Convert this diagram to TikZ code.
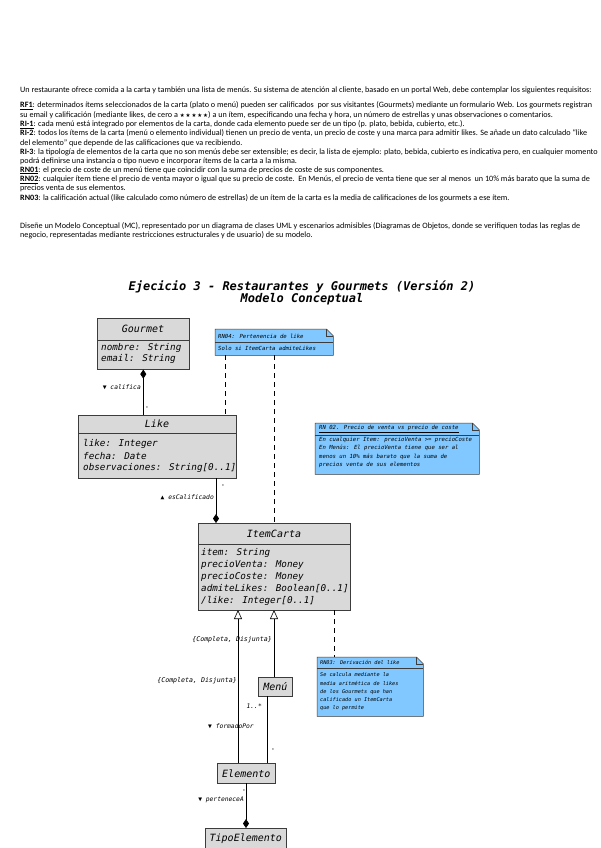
\documentclass[tikz,border=0pt]{standalone}
\usepackage{fontspec}
\setmainfont{Carlito}
\newfontfamily\hand{DejaVu Sans Mono}
\newfontfamily\sym{DejaVu Sans}
\usetikzlibrary{arrows.meta,calc}
\definecolor{classgray}{RGB}{217,217,217}
\definecolor{noteblue}{RGB}{128,200,255}
\definecolor{lineclr}{RGB}{60,60,60}
\tikzset{
  txtline/.style={anchor=west, inner sep=0pt, font=\fontsize{8.15}{8.7}\selectfont},
  clsbox/.style={draw=lineclr, fill=classgray, line width=0.6pt, inner sep=0pt},
  clshead/.style={inner sep=0pt, font=\hand\itshape\fontsize{10}{11}\selectfont},
  clsattr/.style={inner sep=0pt, anchor=west, font=\hand\itshape\fontsize{9.3}{10}\selectfont},
  notebox/.style={draw=lineclr, fill=noteblue, line width=0.5pt},
  notetxt/.style={inner sep=0pt, anchor=west, font=\hand\itshape\fontsize{5.6}{6}\selectfont},
  lbl/.style={inner sep=0pt, font=\hand\itshape\fontsize{6.3}{7}\selectfont},
  conn/.style={draw=black, line width=0.6pt},
  dashconn/.style={draw=black, line width=0.6pt, dashed, dash pattern=on 5pt off 4pt},
  compos/.style={conn, -{Diamond[length=9pt,width=6pt]}},
  gener/.style={conn, -{Triangle[open,length=9pt,width=8pt,fill=white]}},
}
\begin{document}
\begin{tikzpicture}[x=1pt,y=-1pt]
\useasboundingbox (0,0) rectangle (600,848);
\fill[white] (0,0) rectangle (600,848);

% ---------- statement text ----------
\node[txtline] (t0) at (20,90) {Un restaurante ofrece comida a la carta y también una lista de menús. Su sistema de atención al cliente, basado en un portal Web, debe contemplar los siguientes requisitos:};
\node[txtline] (t1) at (20,106) {\textbf{\underline{RF1}}: determinados ítems seleccionados de la carta (plato o menú) pueden ser calificados\ \ por sus visitantes (Gourmets) mediante un formulario Web. Los gourmets registran};
\node[txtline] (t2) at (20,115.2) {su email y calificación (mediante likes, de cero a {\sym\fontsize{5.5}{6}\selectfont ★\,★\,★\,★\,★}) a un ítem, especificando una fecha y hora, un número de estrellas y unas observaciones o comentarios.};
\node[txtline] (t3) at (20,124.4) {\textbf{\underline{RI-1}}: cada menú está integrado por elementos de la carta, donde cada elemento puede ser de un tipo (p. plato, bebida, cubierto, etc.).};
\node[txtline] (t4) at (20,133.6) {\textbf{RI-2}: todos los ítems de la carta (menú o elemento individual) tienen un precio de venta, un precio de coste y una marca para admitir likes. Se añade un dato calculado “like};
\node[txtline] (t5) at (20,142.8) {del elemento” que depende de las calificaciones que va recibiendo.};
\node[txtline] (t6) at (20,152) {\textbf{RI-3}: la tipología de elementos de la carta que no son menús debe ser extensible; es decir, la lista de ejemplo: plato, bebida, cubierto es indicativa pero, en cualquier momento};
\node[txtline] (t7) at (20,161.2) {podrá definirse una instancia o tipo nuevo e incorporar ítems de la carta a la misma.};
\node[txtline] (t8) at (20,170.4) {\textbf{\underline{RN01}}: el precio de coste de un menú tiene que coincidir con la suma de precios de coste de sus componentes.};
\node[txtline] (t9) at (20,179.6) {\textbf{\underline{RN02}}: cualquier ítem tiene el precio de venta mayor o igual que su precio de coste.\ \ En Menús, el precio de venta tiene que ser al menos\ \ un 10\% más barato que la suma de};
\node[txtline] (t10) at (20,188.8) {precios venta de sus elementos.};
\node[txtline] (t11) at (20,198) {\textbf{RN03}: la calificación actual (like calculado como número de estrellas) de un ítem de la carta es la media de calificaciones de los gourmets a ese ítem.};
\node[txtline] (t12) at (20,226) {Diseñe un Modelo Conceptual (MC), representado por un diagrama de clases UML y escenarios admisibles (Diagramas de Objetos, donde se verifiquen todas las reglas de};
\node[txtline] (t13) at (20,235.2) {negocio, representadas mediante restricciones estructurales y de usuario) de su modelo.};

% ---------- title ----------
\node[inner sep=0pt, align=center, font=\hand\bfseries\itshape\fontsize{12}{12.5}\selectfont] (title) at (302,293) {Ejecicio 3 - Restaurantes y Gourmets (Versión 2)\\Modelo Conceptual};

% ---------- classes ----------
% Gourmet
\node[clsbox, minimum width=92, minimum height=51, anchor=north west] (gourmet) at (97,318) {};
\draw[lineclr, line width=0.6pt] ($(gourmet.north west)+(0,22)$) -- ($(gourmet.north east)+(0,22)$);
\node[clshead] (gourmetT) at (143,329) {Gourmet};
\node[clsattr] (gourmetA1) at (101,348) {nombre: String};
\node[clsattr] (gourmetA2) at (101,359) {email: String};

% Like
\node[clsbox, minimum width=158, minimum height=63, anchor=north west] (like) at (78,415) {};
\draw[lineclr, line width=0.6pt] ($(like.north west)+(0,18)$) -- ($(like.north east)+(0,18)$);
\node[clshead] (likeT) at (157,424) {Like};
\node[clsattr] (likeA1) at (83,444) {like: Integer};
\node[clsattr] (likeA2) at (83,456) {fecha: Date};
\node[clsattr] (likeA3) at (83,468) {observaciones: String[0..1]};

% ItemCarta
\node[clsbox, minimum width=152, minimum height=87, anchor=north west] (item) at (198,523) {};
\draw[lineclr, line width=0.6pt] ($(item.north west)+(0,21)$) -- ($(item.north east)+(0,21)$);
\node[clshead] (itemT) at (274,534) {ItemCarta};
\node[clsattr] (itemA1) at (201,553) {item: String};
\node[clsattr] (itemA2) at (201,565) {precioVenta: Money};
\node[clsattr] (itemA3) at (201,577) {precioCoste: Money};
\node[clsattr] (itemA4) at (201,589) {admiteLikes: Boolean[0..1]};
\node[clsattr] (itemA5) at (201,601) {/like: Integer[0..1]};

% Menu
\node[clsbox, minimum width=34, minimum height=19, anchor=north west, clshead] (menu) at (258,677) {Menú};
% Elemento
\node[clsbox, minimum width=58, minimum height=20, anchor=north west, clshead] (elem) at (217,763) {Elemento};
% TipoElemento
\node[clsbox, minimum width=81, minimum height=20, anchor=north west, clshead] (tipo) at (205,828) {TipoElemento};

% ---------- notes ----------
% RN04
\node[minimum width=118, minimum height=26, anchor=north west, inner sep=0pt] (n1) at (215,329) {};
\draw[notebox] (n1.north west) -- ([xshift=-7pt]n1.north east) -- ([yshift=-7pt]n1.north east) -- (n1.south east) -- (n1.south west) -- cycle;
\draw[lineclr, line width=0.5pt] ([xshift=-7pt]n1.north east) -- ([xshift=-7pt,yshift=-7pt]n1.north east) -- ([yshift=-7pt]n1.north east);
\draw[lineclr, line width=0.5pt] ($(n1.north west)+(0,13)$) -- ($(n1.north east)+(0,13)$);
\node[notetxt] (n1h) at (218,336) {RN04: Pertenencia de like};
\node[notetxt] (n1b) at (218,348) {Solo si ItemCarta admiteLikes};

% RN02
\node[minimum width=164, minimum height=51, anchor=north west, inner sep=0pt] (n2) at (315,423) {};
\draw[notebox] (n2.north west) -- ([xshift=-7pt]n2.north east) -- ([yshift=-7pt]n2.north east) -- (n2.south east) -- (n2.south west) -- cycle;
\draw[lineclr, line width=0.5pt] ([xshift=-7pt]n2.north east) -- ([xshift=-7pt,yshift=-7pt]n2.north east) -- ([yshift=-7pt]n2.north east);
\draw[lineclr, line width=0.5pt] ($(n2.north west)+(0,12)$) -- ($(n2.north east)+(0,12)$);
\node[notetxt] (n2h) at (319,429) {\underline{RN 02. Precio de venta vs precio de coste}};
\node[notetxt] (n2b1) at (319,440) {En cualquier Item: precioVenta >= precioCoste};
\node[notetxt] (n2b2) at (319,448) {En Menús: El precioVenta tiene que ser al};
\node[notetxt] (n2b3) at (319,457) {menos un 10\% más barato que la suma de};
\node[notetxt] (n2b4) at (319,465) {precios venta de sus elementos};

% RN03
\node[minimum width=106, minimum height=59, anchor=north west, inner sep=0pt] (n3) at (317,657) {};
\draw[notebox] (n3.north west) -- ([xshift=-7pt]n3.north east) -- ([yshift=-7pt]n3.north east) -- (n3.south east) -- (n3.south west) -- cycle;
\draw[lineclr, line width=0.5pt] ([xshift=-7pt]n3.north east) -- ([xshift=-7pt,yshift=-7pt]n3.north east) -- ([yshift=-7pt]n3.north east);
\draw[lineclr, line width=0.5pt] ($(n3.north west)+(0,11)$) -- ($(n3.north east)+(0,11)$);
\node[notetxt, font=\hand\itshape\fontsize{5.2}{6}\selectfont] (n3h) at (320,662) {RN03: Derivación del like};
\node[notetxt, font=\hand\itshape\fontsize{5.2}{6}\selectfont] (n3b1) at (320,675) {Se calcula mediante la};
\node[notetxt, font=\hand\itshape\fontsize{5.2}{6}\selectfont] (n3b2) at (320,683) {media aritmética de likes};
\node[notetxt, font=\hand\itshape\fontsize{5.2}{6}\selectfont] (n3b3) at (320,692) {de los Gourmets que han};
\node[notetxt, font=\hand\itshape\fontsize{5.2}{6}\selectfont] (n3b4) at (320,700) {calificado un ItemCarta};
\node[notetxt, font=\hand\itshape\fontsize{5.2}{6}\selectfont] (n3b5) at (320,708) {que lo permite};

% ---------- connectors ----------
% Gourmet <>-- Like
\draw[compos] (gourmet.south |- like.north) -- (gourmet.south);
\node[lbl, anchor=east] (lcal) at (141,387) {▼ califica};
\node[lbl, font=\hand\fontsize{4}{4}\selectfont] (m1) at (147,408) {*};

% Like -- ItemCarta (diamond at ItemCarta)
\coordinate (likeOut) at (216,478);
\draw[compos] (likeOut) -- (likeOut |- item.north);
\node[lbl, anchor=east] (lesc) at (214,497) {▲ esCalificado};
\node[lbl, font=\hand\fontsize{4}{4}\selectfont] (m2) at (223,486) {*};

% note RN04 dashed links
\coordinate (n1a) at (225,355);
\coordinate (n1c) at (274,355);
\draw[dashconn] (n1a) -- (n1a |- like.north);
\draw[dashconn] (n1c) -- (n1c |- item.north);

% ItemCarta -> RN03 note
\coordinate (itemNote) at (334,610);
\draw[dashconn] (itemNote) -- (itemNote |- n3.north);

% Generalizations
\coordinate (gE) at (238,610);
\coordinate (gM) at (274,610);
\draw[gener] (gE |- elem.north) -- (gE);
\draw[gener] (menu.north -| gM) -- (gM);
\node[lbl, anchor=east, font=\hand\itshape\fontsize{6.6}{7}\selectfont] (gs1) at (272,640) {\{Completa, Disjunta\}};
\node[lbl, anchor=east, font=\hand\itshape\fontsize{6.6}{7}\selectfont] (gs2) at (237,681) {\{Completa, Disjunta\}};

% Menu -- Elemento
\coordinate (mOut) at (267,696);
\draw[conn] (mOut) -- (mOut |- elem.north);
\node[lbl, anchor=east] (mult) at (262,706) {1..*};
\node[lbl, anchor=west] (lform) at (208,726) {▼ formadoPor};
\node[lbl, font=\hand\fontsize{4}{4}\selectfont] (m3) at (273,750) {*};

% Elemento <>-- TipoElemento
\coordinate (eOut) at (246,783);
\draw[compos] (eOut) -- (eOut |- tipo.north);
\node[lbl, anchor=east] (lper) at (244,800) {▼ perteneceA};
\node[lbl, font=\hand\fontsize{4}{4}\selectfont] (m4) at (244,791) {*};
\end{tikzpicture}
\end{document}
